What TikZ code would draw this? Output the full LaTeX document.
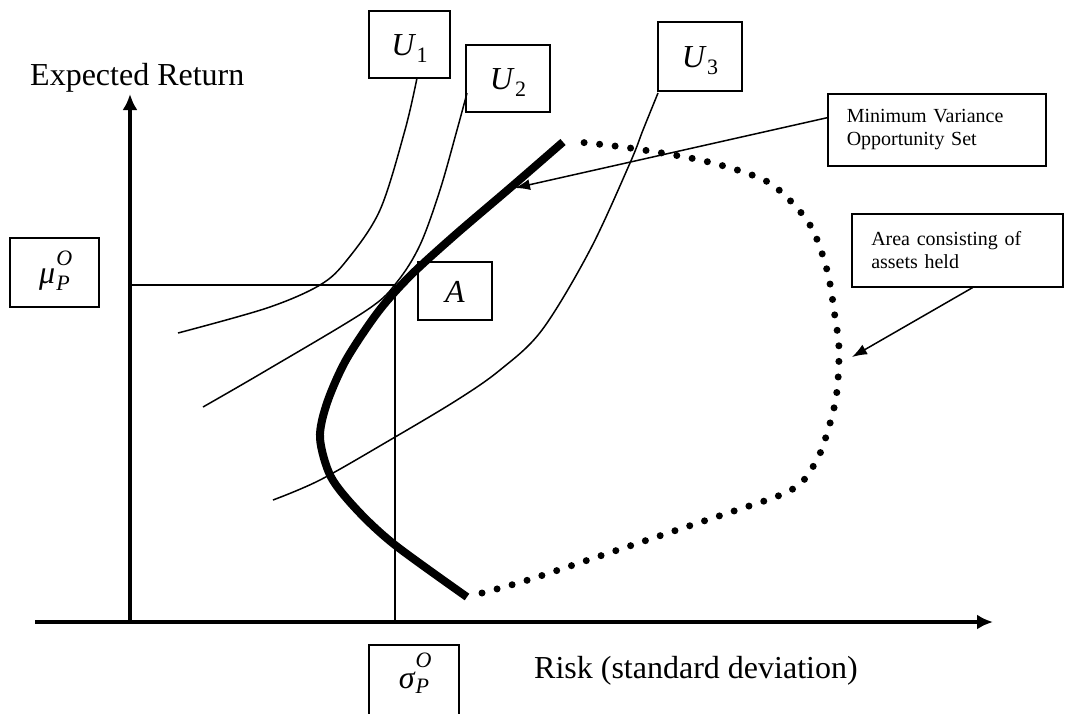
\documentclass[tikz,border=0pt]{standalone}
\usepackage{fontspec}
\setmainfont{Liberation Serif}
\usetikzlibrary{arrows.meta}

% italic index pair stacked as superscript / subscript
\newcommand\stackidx[4]{%
  \rlap{\raisebox{#3}{\fontsize{22}{22}\selectfont\itshape #1}}%
  \raisebox{#4}{\fontsize{22}{22}\selectfont\itshape #2}}
% italic letter with an upright lowered subscript
\newcommand\lowidx[2]{{\itshape #1}\hspace{2pt}\raisebox{-7pt}{\fontsize{22}{22}\selectfont #2}}

\tikzset{
  bigfont/.style={font=\fontsize{32}{38}\selectfont},
  smallfont/.style={font=\fontsize{20}{23}\selectfont},
  % baseline of the label sits on the box centre
  labelbox/.style={draw, line width=1.5pt, inner sep=0pt, bigfont,
    text height=0pt, text depth=0pt},
  notebox/.style={draw, line width=1.5pt, inner xsep=19pt, inner ysep=0pt,
    align=left, smallfont, anchor=north west},
  axis/.style={line width=4pt, -{Latex[length=16pt,width=15pt]}},
  guide/.style={line width=1.5pt},
  utility/.style={line width=1.5pt},
  frontier/.style={line width=8pt},
  heldarea/.style={line width=7pt, line cap=round, dash pattern=on 0pt off 15.6pt},
  pointer/.style={line width=1.5pt, -{Latex[length=15pt,width=11pt]}}
}

\begin{document}
\begin{tikzpicture}[x=1pt,y=-1pt]
\useasboundingbox (0,0) rectangle (1089,713);
\clip (0,0) rectangle (1089,713);

% axes
\coordinate (xstart) at (35,622);
\coordinate (xend) at (993,622);
\coordinate (ybot) at (130,622);
\coordinate (ytop) at (130,94);
\draw[axis] (xstart) -- (xend);
\draw[axis] (ybot) -- (ytop);

\node[bigfont, anchor=base west, inner sep=0pt] (ylab) at (30,85) {Expected Return};
\node[bigfont, anchor=base west, inner sep=0pt] (xlab) at (534,678) {Risk (standard deviation)};

% value boxes on the axes
\node[labelbox, minimum width=89pt, minimum height=69pt] (mu) at (54.5,272.5)
  {\raisebox{-10.5pt}{\itshape μ\kern1pt\stackidx{O}{P}{18pt}{-7pt}}};
\node[labelbox, minimum width=90pt, minimum height=84pt] (sigma) at (414,687)
  {\raisebox{-1pt}{\itshape σ\kern1pt\stackidx{O}{P}{21pt}{-5pt}}};

% optimum guide lines
\coordinate (muleft) at (130,285);
\coordinate (opt) at (395,285);
\coordinate (sigbot) at (395,622);
\draw[guide] (muleft) -- (opt) -- (sigbot);

% indifference curve boxes
\node[labelbox, minimum width=81pt, minimum height=67pt] (U1) at (409.5,44.5)
  {\raisebox{-10.5pt}{\lowidx{U}{1}}};
\node[labelbox, minimum width=84pt, minimum height=67pt] (U2) at (508,78.5)
  {\raisebox{-10.5pt}{\lowidx{U}{2}}};
\node[labelbox, minimum width=84pt, minimum height=69pt] (U3) at (700,56.5)
  {\raisebox{-10.5pt}{\lowidx{U}{3}}};
\node[labelbox, minimum width=74pt, minimum height=58pt] (A) at (455,291)
  {\raisebox{-11.5pt}{\itshape A}};

% indifference curves
\coordinate (u1s) at (417,78);
\coordinate (u2s) at (467,93);
\coordinate (u3s) at (658,93);
\draw[utility] plot[smooth, tension=0.55] coordinates
  {(u1s) (405,130) (380,210) (347,260) (320,285) (267,308) (178,333)};
\draw[utility] plot[smooth, tension=0.55] coordinates
  {(u2s) (457,130) (440,190) (420,245) (397,282) (367,310) (267,370) (203,407)};
\draw[utility] plot[smooth, tension=0.55] coordinates
  {(u3s) (643,130) (630,163) (590,250) (542,330) (500,370) (457,400) (390,440) (320,480) (273,500)};

% minimum variance frontier
\draw[frontier] plot[smooth, tension=0.5] coordinates
  {(563,142) (510,188) (455,235) (410,276) (378,312) (346,360) (327,403) (320,438)
   (331,477) (358,511) (395,545) (467,597)};

% boundary of the attainable asset set
\draw[heldarea] plot[smooth, tension=0.55] coordinates
  {(482,593) (528,580) (600,556) (680,529) (740,509) (778,496) (800,484) (814,465) (824,443)
   (836,398) (839,350) (835,317) (827,270) (810,225) (779,190) (752,175) (700,160) (630,148) (578,142)};

% explanatory notes
\node[notebox, text width=180pt, minimum width=218pt, minimum height=72pt] (minvar) at (827,93)
  {Minimum Variance\\Opportunity Set};
\node[notebox, text width=172pt, minimum width=211pt, minimum height=73pt] (area) at (851,213)
  {Area consisting of\\assets held};

\coordinate (frontpt) at (515,188);
\coordinate (areapt) at (852,357);
\draw[pointer] ([yshift=12pt]minvar.west) -- (frontpt);
\draw[pointer] ([xshift=15.5pt]area.south) -- (areapt);
\end{tikzpicture}
\end{document}
